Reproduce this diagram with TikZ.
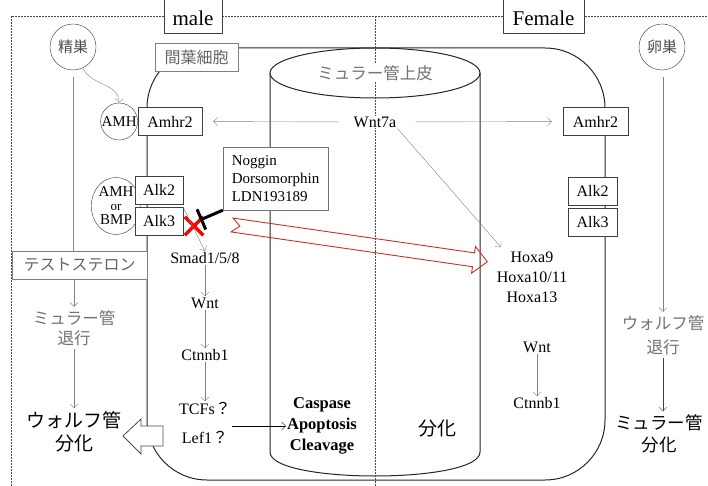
\documentclass[tikz,border=0pt]{standalone}
\usepackage{fontspec}
\setmainfont{Liberation Serif}
\newfontfamily\jp{Noto Sans CJK JP}
\usetikzlibrary{arrows.meta,shapes.misc,shapes.geometric,positioning}
\definecolor{hoxred}{RGB}{205,45,45}

\begin{document}
\begin{tikzpicture}[
    x=1pt, y=-1pt,
    font=\fontsize{16}{19}\selectfont,
    genebox/.style={rectangle, draw=black!75, fill=white, inner sep=0pt, minimum height=28pt},
    cellbox/.style={rectangle, draw=black!50, fill=white, text=black!60, inner sep=0pt, minimum height=28pt, font=\jp\fontsize{16}{19}\selectfont},
    gene/.style={inner sep=1pt, fill=white, align=center},
    fadedjp/.style={align=center, text=black!55, font=\jp\fontsize{16.5}{20}\selectfont},
    fatejp/.style={align=center, text=black, font=\jp\fontsize{19}{23}\selectfont},
    organ/.style={circle, draw=black!80, inner sep=0pt, minimum size=46pt, text=black!70, font=\jp\fontsize{15}{15}\selectfont},
    sig/.style={draw=black!50, -{Straight Barb[length=4pt,width=8pt]}},
    inhib/.style={draw=black, line width=3pt, -{Bar[width=22pt]}},
    frame/.style={draw=black!70, line width=0.8pt, dash pattern=on 2pt off 1pt},
    outline/.style={draw=black!85, line width=1pt}
]
\useasboundingbox (0,0) rectangle (708,486);

% dashed frame, mesenchyme and duct
\draw[frame] (11,486) -- (11,16) -- (708,16);
\draw[outline, rounded corners=60pt] (147,48) rectangle (605,480);
\draw[outline] (375,73) ellipse [x radius=105, y radius=25];
\draw[outline] (270,73) -- (270,452) .. controls (270,484) and (480,484) .. (480,452) -- (480,73);
\draw[frame] (375,16) -- (375,486);

% headers
\node[genebox, anchor=south, minimum width=58pt, text height=26pt, text depth=0pt, inner ysep=7pt, font=\fontsize{21}{24}\selectfont] (male) at (193,33) {male};
\node[genebox, anchor=south, minimum width=81pt, text height=26pt, text depth=0pt, inner ysep=7pt, font=\fontsize{21}{24}\selectfont] (female) at (543.5,33) {Female};

% organs and cells
\node[organ] (testis) at (73,47) {精巣};
\node[organ] (ovary) at (662,47) {卵巣};
\node[cellbox, minimum width=83pt] (mesen) at (196.5,57) {間葉細胞};
\node[fadedjp, fill=white, inner sep=1pt] (epi) at (375,73) {ミュラー管上皮};

% receptors
\node[gene] (wnta) at (375,122) {Wnt7a};
\node[genebox, minimum width=64pt] (amhrL) at (170,121.5) {Amhr2};
\node[circle, draw=black!80, inner sep=0pt, minimum size=37pt, left=0pt of amhrL, font=\fontsize{15}{15}\selectfont] (amh) {AMH};
\node[genebox, minimum width=65pt] (amhrR) at (595.5,121.5) {Amhr2};
\node[ellipse, draw=black!80, inner sep=0pt, minimum width=48pt, minimum height=57pt, align=center, font=\fontsize{15}{15}\selectfont] (ligand) at (116,206) {AMH\\[-1pt]{\fontsize{13}{13}\selectfont or}\\[-1pt]BMP};
\node[genebox, minimum width=48pt] (alkiiL) at (159,190) {Alk2};
\node[genebox, minimum width=48pt, below=3pt of alkiiL] (alkiiiL) {Alk3};
\node[genebox, minimum width=49pt] (alkiiR) at (592.5,191) {Alk2};
\node[genebox, minimum width=49pt, below=3pt of alkiiR] (alkiiiR) {Alk3};

% inhibitors
\node[rectangle, draw=black!55, fill=white, align=left, minimum width=105pt, minimum height=63pt, font=\fontsize{15}{18}\selectfont] (drug) at (275.5,178.5) {Noggin\\Dorsomorphin\\LDN193189};
\node[cross out, draw=red, line width=3.5pt, minimum size=15pt, inner sep=0pt] (xmark) at (194,226) {};
\coordinate (blk) at (200,220);
\draw[inhib] (drug.south west) -- (blk);

% male signalling
\node[gene] (smad) at (205,258) {Smad1/5/8};
\node[gene] (wntL) at (205,303) {Wnt};
\node[gene] (ctnL) at (205,355) {Ctnnb1};
\node[gene, font=\fontsize{16}{29}\selectfont] (tcf) at (205,423) {TCFs{\jp ？}\\Lef1{\jp ？}};
\node[gene, font=\bfseries\fontsize{16.5}{21}\selectfont] (casp) at (322,426) {Caspase\\Apoptosis\\Cleavage};

% female signalling
\node[gene] (hoxa) at (532,257) {Hoxa9};
\node[gene] (hoxb) at (532,277) {Hoxa10/11};
\node[gene] (hoxc) at (532,297) {Hoxa13};
\node[gene] (wntR) at (537,347) {Wnt};
\node[gene] (ctnR) at (537,403) {Ctnnb1};
\node[align=center, font=\jp\fontsize{19}{23}\selectfont] (diffC) at (437,428) {分化};

% side columns
\node[cellbox, minimum width=135pt] (testo) at (79.5,265) {テストステロン};
\node[fadedjp] (mregL) at (74,328) {ミュラー管\\退行};
\node[fatejp] (wdiffL) at (74,432) {ウォルフ管\\分化};
\node[fadedjp, font=\jp\fontsize{16.5}{24}\selectfont] (wregR) at (663,335) {ウォルフ管\\退行};
\node[fatejp, font=\jp\fontsize{17.5}{22}\selectfont] (mdiffR) at (659,434) {ミュラー管\\分化};

% connectors
\draw[sig] (testis) to[out=-65, in=90] (amh.north);
\draw[draw=black!45, shorten <=7pt] (testis.south) -- (testis.south |- testo.north);
\draw[sig] (mregL |- testo.south) -- (mregL.north);
\draw[sig] (mregL) -- (wdiffL);
\draw[sig, shorten <=7pt] (wregR |- ovary.south) -- (wregR.north);
\draw[sig, draw=black!75] (wregR) -- (wregR |- mdiffR.north);
\draw[sig, shorten <=14pt, shorten >=11pt] (wnta) -- (amhrL);
\draw[sig, shorten <=18pt, shorten >=11pt] (wnta) -- (amhrR);
\draw[sig, shorten >=13pt] (wnta.south east) -- (hoxa.west);
\draw[sig] (alkiiiL.north east) -- (smad.north);
\draw[sig] (smad) -- (wntL);
\draw[sig] (wntL) -- (ctnL);
\draw[sig] (ctnL) -- (tcf);
\draw[sig, draw=black] (tcf.east |- casp.west) -- (casp.west);
\draw[sig] (wntR) -- (ctnR);

% block arrows
\begin{scope}[shift={(123,436)}]
\draw[draw=black!70, fill=white, line width=0.8pt] (0,0) -- (18,-17) -- (18,-10) -- (40,-10) -- (40,10) -- (18,10) -- (18,18) -- cycle;
\end{scope}
\begin{scope}[shift={(232,225)}, rotate=-8.2]
\draw[hoxred, line width=0.9pt] (0,-7) -- (8,0) -- (0,7) -- (244,7) -- (244,13.5) -- (258,0) -- (244,-13.5) -- (244,-7) -- cycle;
\end{scope}
\end{tikzpicture}
\end{document}
